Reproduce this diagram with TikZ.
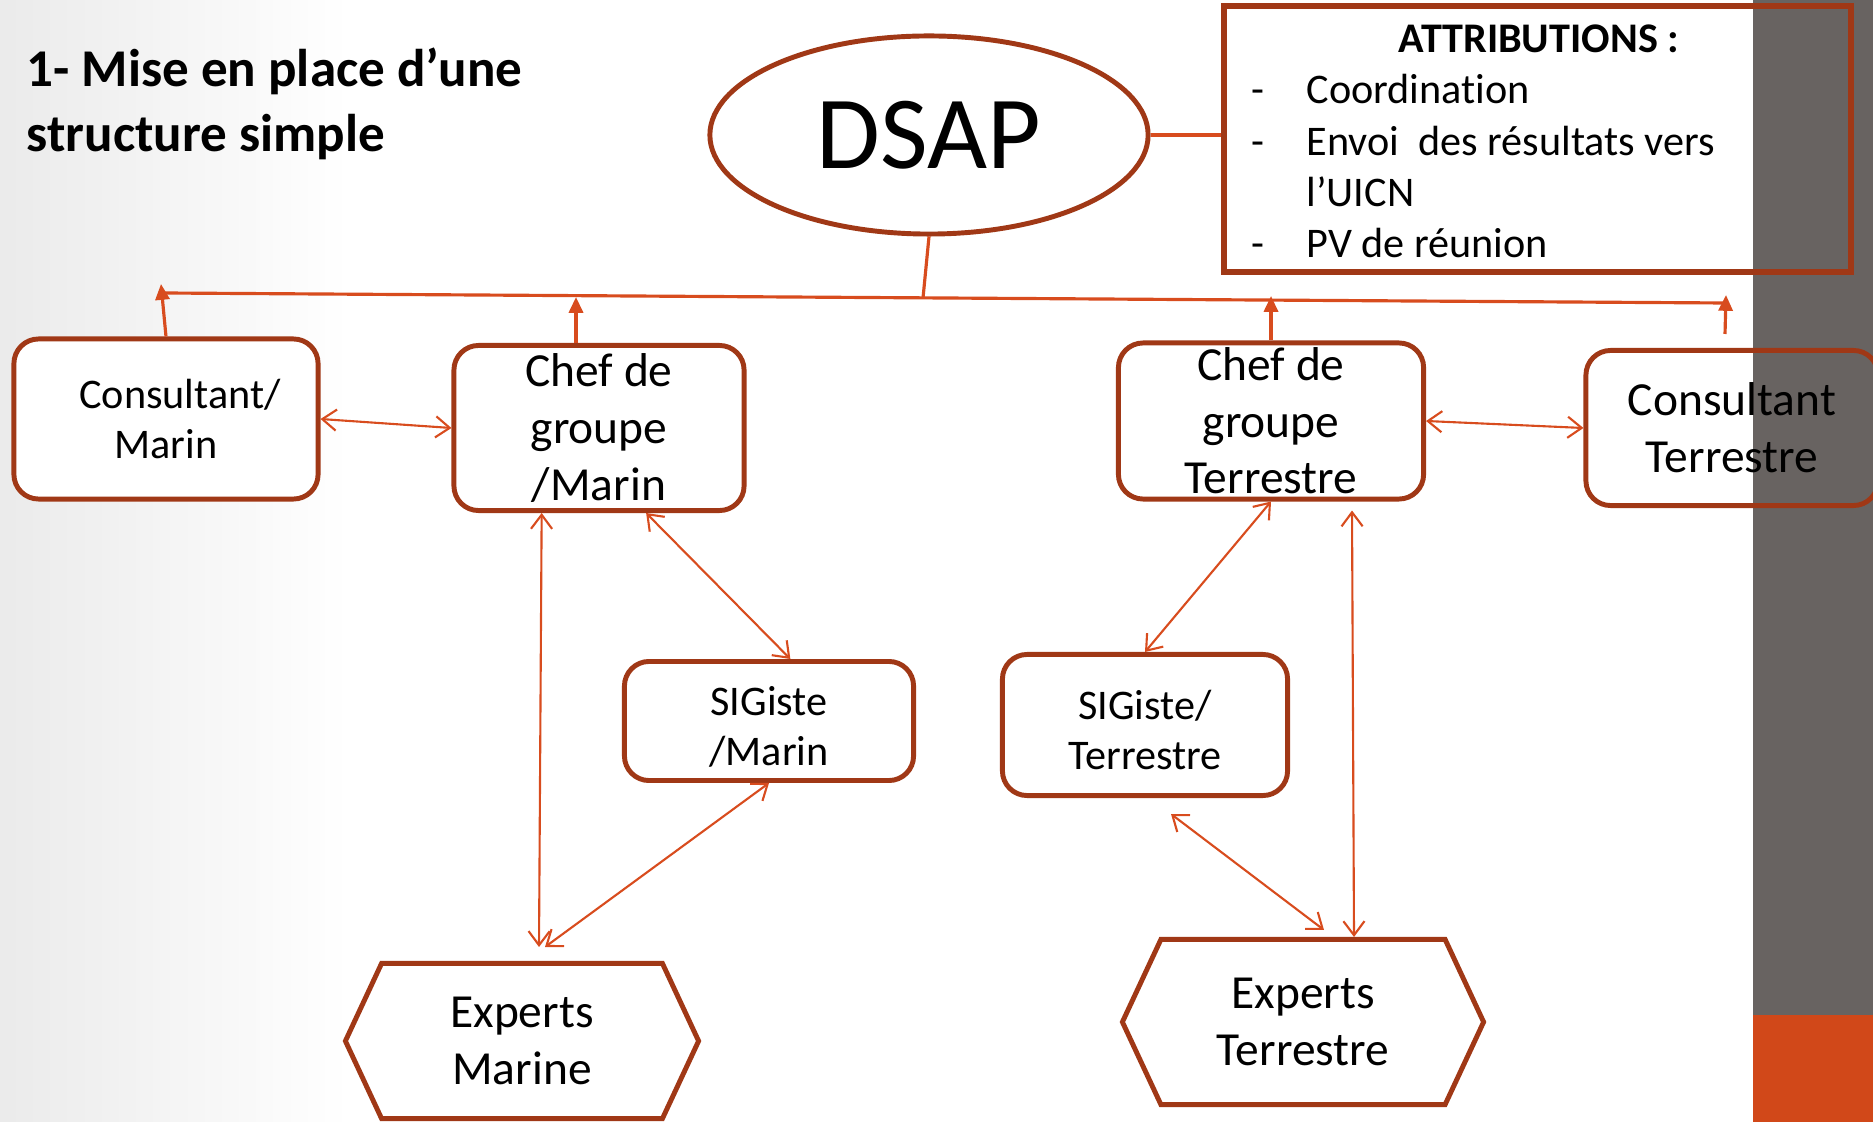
\documentclass[tikz,border=0pt]{standalone}
\usepackage{fontspec}
\setmainfont{Carlito}[Ligatures=NoCommon]
\usepackage{tikz}
\usetikzlibrary{shapes.geometric,shapes.symbols}
\usetikzlibrary{calc,arrows.meta}

\definecolor{rust}{RGB}{160,56,22}
\definecolor{flame}{RGB}{216,76,30}
\definecolor{slate}{RGB}{104,99,97}
\definecolor{ember}{RGB}{209,72,25}

\tikzset{
  unit/.style={draw=rust,line width=1.4pt,rounded corners=7pt,fill=white,align=center,inner sep=0pt},
  smalltxt/.style={font=\fontsize{12}{14.2}\selectfont},
  bigtxt/.style={font=\fontsize{13.5}{16.1}\selectfont},
  experts/.style={draw=rust,line width=1.4pt,fill=white,shape=signal,signal to=west and east,
    signal pointer angle=130,align=center,inner sep=0pt},
  link/.style={flame,line width=0.6pt,<->,>={Straight Barb[length=4pt,width=6pt]}},
  rise/.style={draw=flame,line width=0.9pt,-{Triangle[length=4.5pt,width=4pt]}}
}

\begin{document}
\begin{tikzpicture}[x=0.01cm,y=-0.01cm]
  \useasboundingbox (0,0) rectangle (1873,1122);
  \shade[left color=black!8,right color=white] (0,0) rectangle (350,1122);
  \fill[slate] (1753,0) rectangle (1873,1015);
  \fill[ember] (1753,1015) rectangle (1873,1122);

  \node[anchor=north west,inner sep=0pt,align=left,font=\bfseries\fontsize{15.1}{18.5}\selectfont]
    (title) at (26,47) {1- Mise en place d’une\\structure simple};

  \node[draw=rust,line width=1.4pt,ellipse,fill=white,minimum width=4.38cm,minimum height=1.98cm,
    font=\fontsize{29.5}{35}\selectfont] (dsap) at (929,135) {DSAP};
  \node[draw=rust,line width=1.6pt,minimum width=6.27cm,minimum height=2.66cm] (attr) at (1537.5,139) {};
  \node[anchor=west,inner sep=0pt,font=\fontsize{12}{14.6}\selectfont] (attrlist) at (1251,145)
    {\begin{tabular}{@{}p{15.6pt}@{}l@{}}
      \multicolumn{2}{@{}l}{\hspace{41.8pt}\textbf{ATTRIBUTIONS :}}\\
      - & Coordination\\
      - & Envoi~ des résultats vers\\
        & l’UICN\\
      - & PV de réunion
    \end{tabular}};

  \node[unit,smalltxt,minimum width=3.04cm,minimum height=1.6cm] (consM) at (166,419) {\hspace*{8pt}Consultant/\\Marin};
  \node[unit,bigtxt,minimum width=2.9cm,minimum height=1.65cm] (chefM) at (599,428) {Chef de\\groupe\\/Marin};
  \node[unit,smalltxt,minimum width=2.89cm,minimum height=1.19cm] (sigM) at (769,721) {\rule{0pt}{11.5pt}SIGiste\\/Marin};
  \node[unit,bigtxt,minimum width=3.05cm,minimum height=1.56cm] (chefT) at (1271,421) {Chef de\\groupe\\Terrestre};
  \node[unit,bigtxt,fill=none,minimum width=2.92cm,minimum height=1.55cm] (consT) at (1732,428) {Consultant\\Terrestre};
  \node[unit,smalltxt,minimum width=2.85cm,minimum height=1.41cm] (sigT) at (1145,725) {\rule{0pt}{11pt}SIGiste/\\Terrestre};
  \node[experts,bigtxt,minimum width=3.53cm,minimum height=1.55cm] (expM) at (522,1041) {Experts\\Marine};
  \node[experts,bigtxt,minimum width=3.61cm,minimum height=1.65cm] (expT) at (1303,1022) {Experts\\Terrestre};

  \coordinate (busW) at (164,293);
  \coordinate (busE) at (1725,303);
  \coordinate (busM) at (923,298);
  \coordinate (tipCM) at (161,284);
  \coordinate (tipChM) at (576,297);
  \coordinate (tipChT) at (1271,296);
  \coordinate (tipCT) at (1726,295);

  \draw[flame,line width=0.9pt] (dsap.east) -- (dsap.east -| attr.west);
  \draw[flame,line width=0.9pt] (busW) -- (busE);
  \draw[flame,line width=0.9pt] (dsap.south) -- (busM);
  \draw[rise] (consM.north) -- (tipCM);
  \draw[rise] (tipChM |- chefM.north) -- (tipChM);
  \draw[rise] (chefT.north) -- (tipChT);
  \draw[rise] ($(consT.north)+(-7,-14)$) -- (tipCT);

  \path[link]
  (consM.east) edge (chefM.west)
  (chefT.east) edge (consT.west)
  (chefM.-61) edge (sigM.71)
  (chefM.-124) edge ($(expM.north)+(17,-14)$)
  (sigM.south) edge ($(expM.north)+(23,-14)$)
  (chefT.south) edge (sigT.north)
  ($(chefT.south)+(81,9)$) edge ($(expT.north)+(51,0)$)
  ($(sigT.south)+(26,16)$) edge ($(expT.north)+(21,-7)$);
\end{tikzpicture}
\end{document}
